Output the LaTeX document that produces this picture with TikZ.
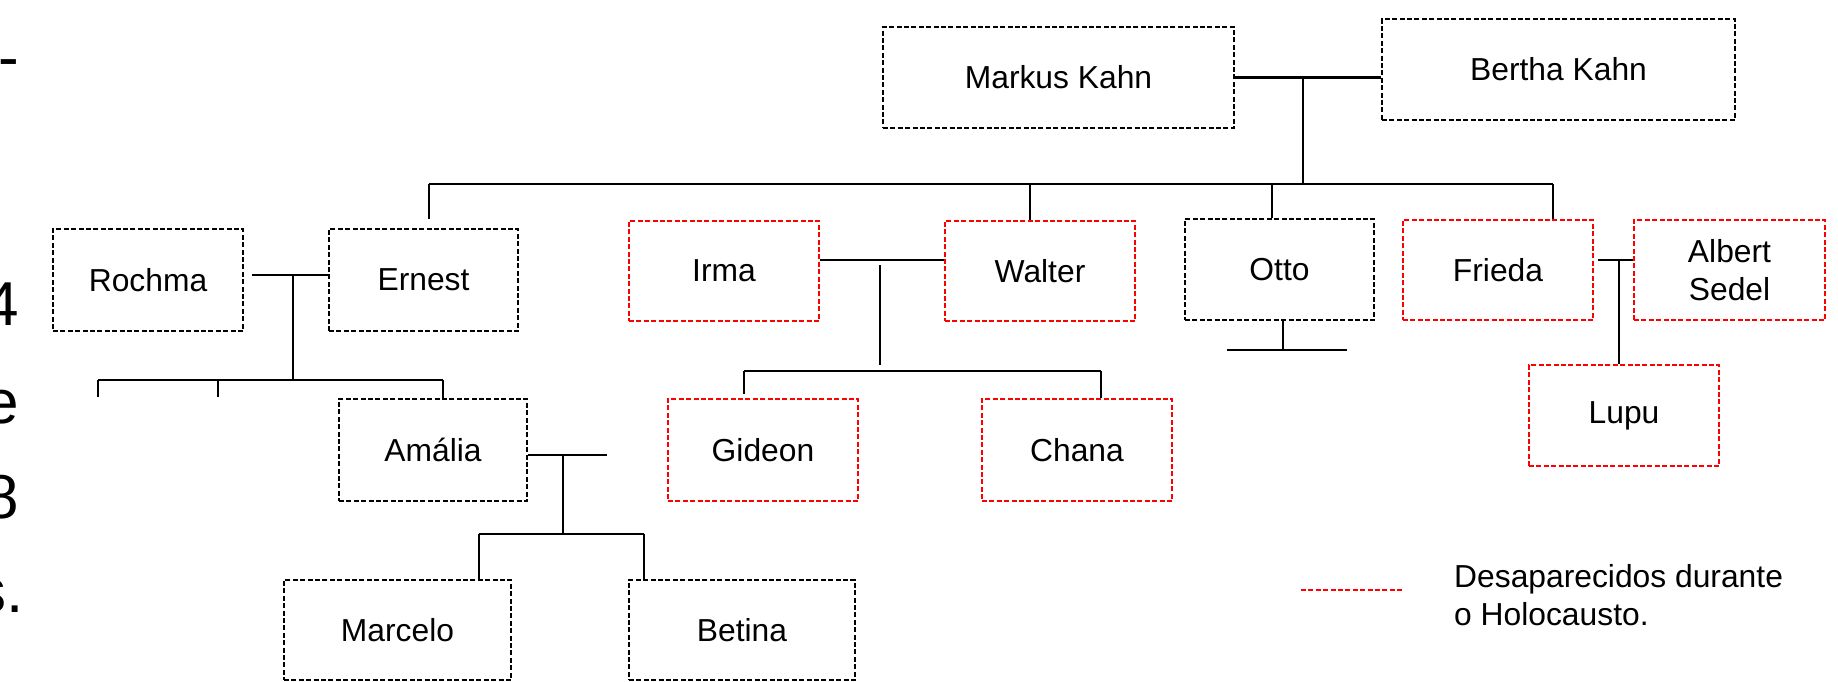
\documentclass[tikz,border=0pt]{standalone}
\usepackage{fontspec}
\setmainfont{Liberation Sans}
\usetikzlibrary{calc}
\begin{document}
\begin{tikzpicture}[x=1pt,y=-1pt,
  person/.style={draw=black, line width=2.4pt, dash pattern=on 5pt off 2.4pt,
    inner sep=0pt, align=center, font=\fontsize{31.8}{38}\selectfont},
  lost/.style={person, draw=red},
  link/.style={line width=2.3pt, draw=black},
  edgetext/.style={font=\fontsize{62}{70}\selectfont, anchor=base east, inner sep=0pt}
]
\useasboundingbox (0,0) rectangle (1838,682);

% clipped ends of the neighbouring text lines
\node[edgetext] (f1) at (19.5,79) {-};
\node[edgetext] (f2) at (19.5,325) {4};
\node[edgetext] (f3) at (19.5,423) {e};
\node[edgetext] (f4) at (19.5,518) {8};
\node[edgetext] (f5) at (24,612) {s.};

% people
\node[person, minimum width=351pt, minimum height=101pt] (markus) at (1058.5,77.5) {Markus Kahn};
\node[person, minimum width=353pt, minimum height=101pt] (bertha) at (1558.5,69.5) {Bertha Kahn};
\node[person, minimum width=190pt, minimum height=102pt] (rochma) at (148,280) {Rochma};
\node[person, minimum width=189pt, minimum height=102pt] (ernest) at (423.5,280) {Ernest};
\node[lost, minimum width=190pt, minimum height=100pt] (irma) at (724,271) {Irma};
\node[lost, minimum width=190pt, minimum height=100pt] (walter) at (1040,271) {Walter};
\node[person, minimum width=189pt, minimum height=101pt] (otto) at (1279.5,269.5) {Otto};
\node[lost, minimum width=190pt, minimum height=100pt] (frieda) at (1498,270) {Frieda};
\node[lost, minimum width=191pt, minimum height=100pt] (albert) at (1729.5,270) {Albert\\Sedel};
\node[person, minimum width=188pt, minimum height=102pt] (amalia) at (433,450) {Amália};
\node[lost, minimum width=190pt, minimum height=102pt] (gideon) at (763,450) {Gideon};
\node[lost, minimum width=190pt, minimum height=102pt] (chana) at (1077,450) {Chana};
\node[lost, minimum width=190pt, minimum height=101pt] (lupu) at (1624,415.5) {Lupu};
\node[person, minimum width=227pt, minimum height=100pt] (marcelo) at (397.5,630) {Marcelo};
\node[person, minimum width=226pt, minimum height=100pt] (betina) at (742,630) {Betina};

% Markus and Bertha with their children
\coordinate (mK) at (1303,77.5);
\coordinate (dE) at (429,184);
\coordinate (dW) at (1030,184);
\coordinate (dO) at (1272,184);
\coordinate (dF) at (1553,184);
\draw[link] (markus.east) -- (markus.east -| bertha.west);
\draw[link] (mK) -- (mK |- dF);
\draw[link] (dE) -- (dF);
\draw[link] (dE) -- ($(dE |- ernest.north)+(0,-9)$);
\draw[link] (dW) -- (dW |- walter.north);
\draw[link] (dO) -- (dO |- otto.north);
\draw[link] (dF) -- (dF |- frieda.north);

% Rochma and Ernest
\coordinate (mR) at (293,275);
\coordinate (bR) at (293,380);
\coordinate (c1) at (98,380);
\coordinate (c2) at (218,380);
\coordinate (c3) at (443,380);
\draw[link] ($(rochma.east |- mR)+(8,0)$) -- (ernest.west |- mR);
\draw[link] (mR) -- (bR);
\draw[link] (c1) -- (c3);
\draw[link] (c1) -- ($(c1 |- amalia.north)+(0,-1)$);
\draw[link] (c2) -- ($(c2 |- amalia.north)+(0,-1)$);
\draw[link] (c3) -- (c3 |- amalia.north);

% Amalia
\coordinate (mA) at (563,455);
\coordinate (aEnd) at (607,455);
\coordinate (aL) at (479,534);
\coordinate (aR) at (644,534);
\draw[link] (amalia.east |- mA) -- (aEnd);
\draw[link] (mA) -- (mA |- aL);
\draw[link] (aL) -- (aR);
\draw[link] (aL) -- (aL |- marcelo.north);
\draw[link] (aR) -- (aR |- betina.north);

% Irma and Walter
\coordinate (mI) at (880,260);
\coordinate (gL) at (744,371);
\coordinate (gR) at (1101,371);
\draw[link] (irma.east |- mI) -- (walter.west |- mI);
\draw[link] ($(mI)+(0,5)$) -- ($(mI |- gL)+(0,-6)$);
\draw[link] (gL) -- (gR);
\draw[link] (gL) -- ($(gL |- gideon.north)+(0,-4)$);
\draw[link] (gR) -- (gR |- chana.north);

% Otto
\coordinate (oB) at (1283,350);
\coordinate (oL) at (1227,350);
\coordinate (oR) at (1347,350);
\draw[link] (otto.south -| oB) -- (oB);
\draw[link] (oL) -- (oR);

% Frieda and Albert
\coordinate (mF) at (1619,260);
\draw[link] ($(frieda.east |- mF)+(4,0)$) -- (albert.west |- mF);
\draw[link] (mF) -- (mF |- lupu.north);

% key
\coordinate (kL) at (1301,590);
\coordinate (kR) at (1403,590);
\draw[line width=2.4pt, draw=red, dash pattern=on 5pt off 2.4pt] (kL) -- (kR);
\node[anchor=west, align=left, inner sep=0pt, font=\fontsize{31.8}{38}\selectfont] (legend) at (1454,595)
  {Desaparecidos durante\\o Holocausto.};
\end{tikzpicture}
\end{document}
